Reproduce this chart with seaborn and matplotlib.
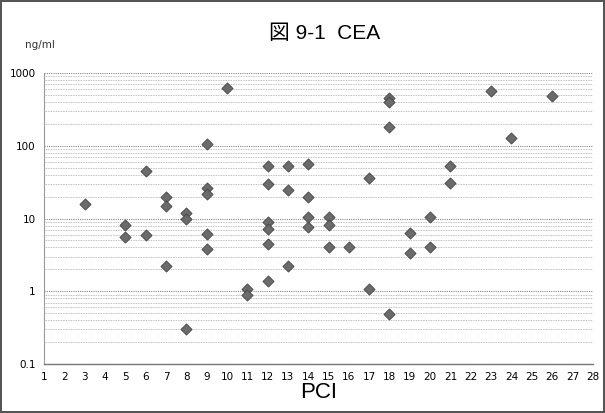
import numpy as np
import pandas as pd
import matplotlib
matplotlib.use("Agg")
import matplotlib.pyplot as plt
import matplotlib.ticker as mticker
import seaborn as sns

# PCI values (x) and CEA values in ng/ml (y)
pci = [3, 5, 5, 6, 6, 7, 7, 7, 8, 8, 8,
       9, 9, 9, 9, 9, 10, 11, 11,
       12, 12, 12, 12, 12, 12, 13, 13, 13,
       14, 14, 14, 14, 15, 15, 15, 16, 17, 17,
       18, 18, 18, 18, 19, 19, 20, 20, 21, 21, 23, 24, 26]
cea = [16, 8.2, 5.6, 45, 6.0, 19.5, 15, 2.2, 11.8, 9.8, 0.30,
       106, 26, 22, 6.1, 3.8, 630, 1.06, 0.88,
       53, 30, 9.0, 7.1, 4.5, 1.4, 52, 25, 2.2,
       57, 20, 10.6, 7.7, 10.4, 8.2, 4.1, 4.1, 36, 1.08,
       450, 400, 183, 0.48, 6.4, 3.4, 10.4, 4.0, 53, 30.5, 566, 129, 483]

x_ticks = list(range(1, 29))
y_ticks = [0.1, 1, 10, 100, 1000]
y_tick_labels = ["0.1", "1", "10", "100", "1000"]

df = pd.DataFrame({"PCI": pci, "CEA": cea})

sns.set_style("white")
plt.rcParams['font.family'] = ['DejaVu Sans', 'Noto Sans CJK JP']

fig = plt.figure(figsize=(6.05, 4.13), dpi=100, edgecolor="#555555", linewidth=1.5)
ax = fig.add_axes([0.0727, 0.1186, 0.907, 0.7046])

ax.set_yscale("log")
ax.set_ylim(0.1, 1000)
ax.set_xlim(1, 28)

# gridlines at major and minor log positions
ax.yaxis.set_major_locator(mticker.FixedLocator(y_ticks))
ax.yaxis.set_major_formatter(mticker.FixedFormatter(y_tick_labels))
ax.yaxis.set_minor_locator(mticker.LogLocator(base=10, subs=np.arange(2, 10)))
ax.yaxis.set_minor_formatter(mticker.NullFormatter())
ax.grid(True, which="major", axis="y", color="#888888", linestyle=(0, (1, 1)), linewidth=0.8)
ax.grid(True, which="minor", axis="y", color="#aaaaaa", linestyle=(0, (1, 1)), linewidth=0.6)
ax.grid(False, axis="x")

sns.scatterplot(data=df, x="PCI", y="CEA", ax=ax, marker="D", s=32,
                color="#6b6b6b", edgecolor="#444444", linewidth=0.6, zorder=3)

ax.set_xticks(x_ticks)
ax.set_xticklabels([str(v) for v in x_ticks])
ax.tick_params(axis="x", which="both", direction="in", length=3, color="#888888",
               labelsize=7.5, pad=6, labelcolor="black")
ax.tick_params(axis="y", which="major", direction="out", length=3, color="#888888",
               labelsize=7.5, pad=3, labelcolor="black")
ax.tick_params(axis="y", which="minor", length=0)

for side in ["top", "right"]:
    ax.spines[side].set_visible(False)
ax.spines["left"].set_color("#999999")
ax.spines["bottom"].set_color("#777777")
ax.spines["left"].set_linewidth(0.8)
ax.spines["bottom"].set_linewidth(1.0)

ax.set_xlabel("PCI", fontsize=16, labelpad=0, color="black",
              family=["Liberation Sans", "DejaVu Sans"])
ax.set_ylabel("")

fig.text(0.537, 0.92, "図 9-1  CEA", ha="center", va="center", fontsize=15,
         family=["Liberation Sans", "Noto Sans CJK JP"], color="black")
fig.text(0.042, 0.89, "ng/ml", ha="left", va="center", fontsize=7.5, color="#333333")

fig.savefig("out.png", dpi=100)
